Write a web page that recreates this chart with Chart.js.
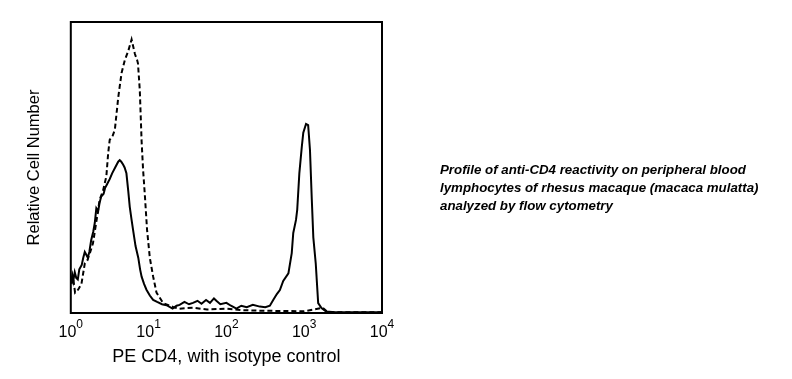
<!DOCTYPE html>
<html lang="en">
<head>
<meta charset="UTF-8">
<title>Anti-CD4 flow cytometry</title>
<script src="https://cdn.jsdelivr.net/npm/chart.js@4/dist/chart.umd.min.js"></script>
<style>
  body { margin: 0; background: #fff; }
  #wrap { position: relative; width: 792px; height: 379px; }
  #caption {
    position: absolute; left: 440px; top: 161px;
    font: italic bold 13.3px "Liberation Sans", Arial, sans-serif;
    line-height: 18px; color: #000;
  }
</style>
</head>
<body>
<div id="wrap">
  <canvas id="myChart" width="792" height="379"></canvas>
  <div id="caption">Profile of anti-CD4 reactivity on peripheral blood<br>lymphocytes of rhesus macaque (macaca mulatta)<br>analyzed by flow cytometry</div>
</div>
<script>
// x = fluorescence channel (256 channels per decade), y = relative cell number (% of full scale)
const tickChannels = [0, 256, 512, 768, 1024];
const tickExponents = ['0', '1', '2', '3', '4'];

// PE CD4 stained
const cd4Channel = [0, 5, 8, 13, 18, 23, 28, 36, 41, 46, 51, 56, 61, 67, 74, 79, 84, 90, 95, 100,
  108, 113, 118, 123, 128, 136, 146, 156, 161, 166, 172, 177, 183, 189, 194, 200, 205, 213, 222, 228,
  233, 241, 249, 260, 271, 284, 300, 315, 335, 348, 358, 374, 389, 402, 417, 430, 445, 458, 471, 479,
  492, 512, 527, 545, 561, 579, 599, 622, 640, 655, 666, 678, 688, 699, 716, 727, 732, 741, 745, 752,
  760, 765, 774, 781, 787, 793, 798, 806, 814, 825, 840, 870, 1024];
const cd4Count = [10.6, 13, 11, 14, 12, 11.5, 15, 16.5, 19, 21, 20, 19, 21, 25, 28, 31, 36, 35, 38, 40,
  41, 43, 44, 45, 46, 48, 50, 52, 52.5, 52, 51, 50, 48, 42, 36.5, 32, 28.5, 23, 19, 15,
  12.5, 10, 8, 6, 4.5, 3.8, 3, 2.7, 1.5, 2.5, 2.8, 3.8, 3, 3.5, 4.2, 3.2, 4.5, 3.5, 5, 4.2,
  3, 3.5, 2.5, 1.5, 2.5, 2, 2.8, 2.2, 2, 2.5, 4.5, 6.5, 7.9, 11, 13.6, 20.6, 27.5, 32, 35.4, 48,
  57, 62, 65, 64.6, 56, 39, 26, 17, 3.4, 1.7, 0.5, 0.3, 0.3];

// isotype control
const isoChannel = [2, 8, 14, 24, 35, 46, 54, 63, 73, 85, 95, 106, 117, 123, 128, 138, 145, 156, 167, 178,
  189, 200, 211, 218, 221, 227, 233, 238, 244, 251, 260, 271, 282, 304, 338, 358, 402, 448, 512, 563,
  622, 691, 768, 829, 845, 1024];
const isoCount = [10, 12, 7, 8, 10, 17, 18, 20.6, 24, 32, 39, 42, 47, 55, 59.5, 61, 63, 74, 82.5, 87,
  90, 94, 89, 87, 85.8, 76.6, 59, 49, 40, 28.5, 19, 12.5, 7, 3.4, 2, 1.5, 1.8, 1.2, 1.5, 1,
  0.8, 0.7, 0.6, 1.8, 0.3, 0.3];

const toPoints = (xs, ys) => xs.map((x, i) => ({ x: x, y: ys[i] }));
const FONT = 'Liberation Sans, Arial, sans-serif';

// plot frame and "10^n" tick labels with real superscripts
const frame = {
  id: 'frame',
  afterDraw(chart) {
    const { ctx, chartArea: a } = chart;
    const xs = chart.scales.x;
    ctx.save();
    ctx.strokeStyle = '#000';
    ctx.lineWidth = 2;
    ctx.strokeRect(a.left, a.top, a.right - a.left, a.bottom - a.top);
    ctx.fillStyle = '#000';
    ctx.textBaseline = 'alphabetic';
    ctx.textAlign = 'left';
    tickChannels.forEach((v, i) => {
      const px = xs.getPixelForValue(v);
      ctx.font = '16px ' + FONT;
      const wBase = ctx.measureText('10').width;
      ctx.font = '12px ' + FONT;
      const wExp = ctx.measureText(tickExponents[i]).width;
      const x0 = px - (wBase + wExp) / 2;
      ctx.font = '16px ' + FONT;
      ctx.fillText('10', x0, a.bottom + 24);
      ctx.font = '12px ' + FONT;
      ctx.fillText(tickExponents[i], x0 + wBase, a.bottom + 15);
    });
    ctx.restore();
  }
};

const ctx = document.getElementById('myChart');
const myChart = new Chart(ctx, {
  type: 'line',
  data: {
    datasets: [{
      label: 'PE CD4',
      data: toPoints(cd4Channel, cd4Count),
      borderColor: '#000',
      borderWidth: 2,
      pointRadius: 0,
      tension: 0
    }, {
      label: 'Isotype control',
      data: toPoints(isoChannel, isoCount),
      borderColor: '#000',
      borderWidth: 2,
      borderDash: [5, 3],
      pointRadius: 0,
      tension: 0
    }]
  },
  options: {
    responsive: false,
    animation: false,
    layout: { padding: { left: 24, top: 22, right: 410, bottom: 0 } },
    plugins: {
      legend: { display: false },
      tooltip: { enabled: false }
    },
    scales: {
      x: {
        type: 'linear',
        min: 0,
        max: 1024,
        ticks: { display: false },
        grid: { display: false, drawTicks: false },
        border: { display: false },
        title: {
          display: true,
          text: 'PE CD4, with isotype control',
          color: '#000',
          font: { family: FONT, size: 18 },
          padding: { top: 33.7, bottom: 10.7 }
        }
      },
      y: {
        min: 0,
        max: 100,
        ticks: { display: false },
        grid: { display: false, drawTicks: false },
        border: { display: false },
        title: {
          display: true,
          text: 'Relative Cell Number',
          color: '#000',
          font: { family: FONT, size: 16.5 },
          padding: { top: 1, bottom: 26 }
        }
      }
    }
  },
  plugins: [frame]
});
</script>
</body>
</html>
